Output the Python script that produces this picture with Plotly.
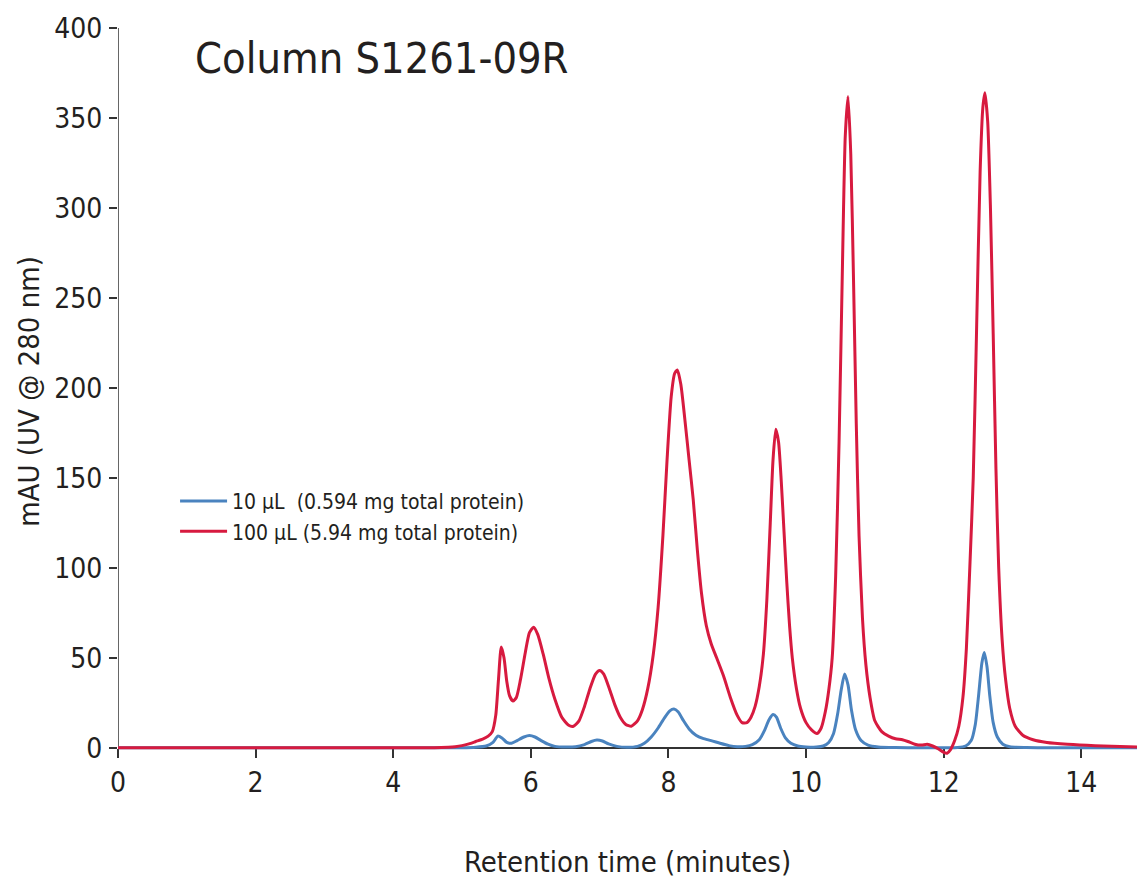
import plotly.graph_objects as go

# ---- data ----
time_100 = [0.0, 1.0, 2.0, 3.0, 4.0, 4.6, 4.8, 4.9, 5.0, 5.1, 5.2, 5.3, 5.38, 5.44, 5.49, 5.53, 5.57, 5.61,
            5.65, 5.69, 5.74, 5.79, 5.85, 5.92, 5.98, 6.04, 6.1, 6.18, 6.26, 6.35, 6.45, 6.55, 6.62, 6.7,
            6.78, 6.86, 6.94, 7.0, 7.06, 7.14, 7.22, 7.3, 7.38, 7.46, 7.55, 7.62, 7.7, 7.78, 7.85, 7.92,
            7.98, 8.04, 8.09, 8.13, 8.18, 8.24, 8.3, 8.36, 8.42, 8.48, 8.55, 8.62, 8.7, 8.8, 8.9, 9.0,
            9.07, 9.14, 9.2, 9.26, 9.32, 9.38, 9.43, 9.48, 9.52, 9.56, 9.6, 9.64, 9.68, 9.72, 9.76, 9.8,
            9.86, 9.92, 10.0, 10.08, 10.16, 10.22, 10.28, 10.33, 10.38, 10.43, 10.48, 10.53, 10.57, 10.61,
            10.65, 10.69, 10.73, 10.77, 10.82, 10.87, 10.93, 11.0, 11.1, 11.2, 11.3, 11.4, 11.48, 11.58,
            11.68, 11.76, 11.84, 11.92, 12.0, 12.05, 12.1, 12.16, 12.22, 12.28, 12.33, 12.38, 12.43, 12.48,
            12.53, 12.57, 12.6, 12.64, 12.68, 12.72, 12.76, 12.8, 12.85, 12.9, 12.96, 13.04, 13.15, 13.3,
            13.5, 13.8, 14.2, 14.81]
mau_100 = [0, 0, 0, 0, 0, 0, 0.3, 0.6, 1.2, 2.2, 3.5, 4.8, 6.5, 9, 18, 38, 56, 50,
           37, 29, 26, 28, 38, 53, 64, 67, 63, 52, 39, 27, 17, 12.5, 12, 15,
           23, 33, 41, 43, 41, 33, 24, 17, 13, 12, 15, 21, 33, 52, 78, 118,
           160, 195, 208, 210, 202, 182, 160, 138, 110, 86, 68, 58, 50, 40, 28, 18,
           14, 14, 17, 23, 34, 52, 82, 125, 160, 177, 170, 148, 120, 92, 68, 50,
           33, 22, 14, 10, 8, 11, 20, 32, 50, 95, 170, 270, 340, 362,
           330, 260, 180, 118, 72, 46, 28, 15, 9, 6.5, 5, 4.5, 3.5, 2,
           1.5, 2, 1, -0.5, -2.5, -3, -1, 4, 12, 28, 55, 100, 150, 235,
           320, 356, 364, 348, 300, 230, 155, 100, 60, 38, 22, 12, 7, 4.5,
           3, 2, 1.2, 0.5]

time_10 = [0.0, 5.0, 5.2, 5.35, 5.45, 5.52, 5.58, 5.65, 5.72, 5.8, 5.9, 5.98, 6.06, 6.15, 6.25, 6.35,
           6.5, 6.65, 6.78, 6.88, 6.96, 7.04, 7.13, 7.25, 7.4, 7.55, 7.65, 7.75, 7.85, 7.94, 8.02, 8.08,
           8.14, 8.22, 8.3, 8.4, 8.5, 8.62, 8.75, 8.88, 9.0, 9.12, 9.22, 9.32, 9.4, 9.46, 9.52, 9.57,
           9.63, 9.7, 9.78, 9.88, 10.0, 10.15, 10.25, 10.33, 10.4, 10.46, 10.51, 10.56, 10.61, 10.66,
           10.72, 10.8, 10.9, 11.05, 11.3, 12.2, 12.32, 12.4, 12.46, 12.51, 12.555, 12.59, 12.63, 12.67,
           12.72, 12.78, 12.86, 12.96, 13.2, 14.81]
mau_10 = [0, 0, 0.3, 1, 3, 6.5, 5.5, 3, 2.5, 4, 6, 6.8, 6, 4, 2, 0.8,
          0.4, 0.6, 1.8, 3.5, 4.3, 3.8, 2.2, 0.8, 0.3, 0.8, 2.5, 6, 11, 16.5, 20.5, 21.5,
          20, 15, 10.5, 7, 5.2, 4, 2.5, 1.2, 0.6, 0.8, 1.8, 4.5, 10, 15.5, 18.5, 17,
          11, 5.5, 2.5, 1, 0.5, 0.4, 1, 3, 8, 19, 32, 41, 35, 21,
          10, 4, 1.5, 0.5, 0.2, 0.2, 1, 4, 13, 30, 47, 53, 45, 29,
          14, 6, 2, 0.6, 0.2, 0]

series_names = ["10 µL  (0.594 mg total protein)", "100 µL (5.94 mg total protein)"]
x_ticks = [0, 2, 4, 6, 8, 10, 12, 14]
y_ticks = [0, 50, 100, 150, 200, 250, 300, 350, 400]

FONT = "DejaVu Sans Condensed, Liberation Sans Narrow, sans-serif"
INK = "#231f20"
BLUE = "#4a83bf"
RED = "#d71a3f"

fig = go.Figure()
fig.add_trace(go.Scatter(x=time_10, y=mau_10, mode="lines", name=series_names[0],
                         line=dict(color=BLUE, width=3, shape="spline", smoothing=0.6)))
fig.add_trace(go.Scatter(x=time_100, y=mau_100, mode="lines", name=series_names[1],
                         line=dict(color=RED, width=3, shape="spline", smoothing=0.6)))

ymin = -4
fig.update_layout(
    width=1137, height=882,
    margin=dict(l=118, r=0, t=28, b=127),
    paper_bgcolor="white", plot_bgcolor="white",
    font=dict(family=FONT, color=INK),
    showlegend=True,
    legend=dict(x=0.056, y=0.377, xanchor="left", yanchor="top",
                font=dict(family=FONT, size=21, color=INK),
                bgcolor="rgba(0,0,0,0)", itemwidth=47, tracegroupgap=0),
    xaxis=dict(range=[0, 14.81], tickvals=x_ticks, ticks="outside", ticklen=9, tickwidth=1.5,
               tickcolor="#333", showline=True, linecolor="#333", linewidth=1.5,
               showgrid=False, zeroline=False, anchor="free", position=(0 - ymin) / (400 - ymin),
               layer="below traces", ticklabelstandoff=1,
               tickfont=dict(family=FONT, size=28, color=INK),
               title=dict(text="Retention time (minutes)", standoff=53,
                          font=dict(family=FONT, size=29, color=INK))),
    yaxis=dict(range=[ymin, 400], tickvals=y_ticks, ticks="outside", ticklen=8, tickwidth=1.5,
               tickcolor="#333", showline=False, showgrid=False, zeroline=False,
               layer="below traces", ticklabelstandoff=1,
               tickfont=dict(family=FONT, size=28, color=INK),
               title=dict(text="mAU (UV @ 280 nm)", standoff=6,
                          font=dict(family=FONT, size=29, color=INK))),
)
# vertical axis line from 0 to 400
fig.add_shape(type="line", xref="x", yref="y", x0=0, x1=0, y0=0, y1=400,
              line=dict(color="#333", width=1.5), layer="below")
fig.add_annotation(text="Column S1261-09R", xref="paper", yref="paper",
                   x=(193 - 118) / 1019, y=(748 - 58) / 720, xanchor="left", yanchor="middle",
                   showarrow=False, font=dict(family=FONT, size=43, color=INK))

fig.write_html("out.html")
